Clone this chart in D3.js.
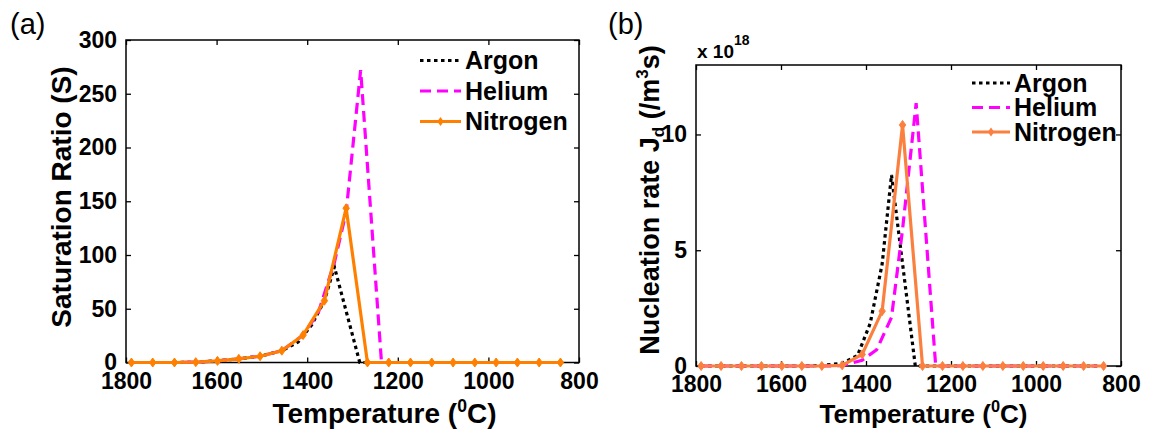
<!DOCTYPE html>
<html>
<head>
<meta charset="utf-8">
<script src="https://cdn.jsdelivr.net/npm/d3@7"></script>
<style>
  html, body { margin: 0; padding: 0; background: #fff; }
  svg { display: block; }
  text { font-family: "Liberation Sans", Arial, sans-serif; fill: #000; }
</style>
</head>
<body>
<svg id="fig" width="1149" height="435"></svg>
<script>
// Temperature grids (°C) for each carrier gas
const argonT    = [1788, 1741, 1693, 1646, 1598, 1551, 1504, 1456, 1420, 1390, 1362, 1340, 1284, 1236, 1188, 1141, 1093, 1046, 998, 951, 903, 856];
const heliumT   = [1788, 1741, 1693, 1646, 1598, 1551, 1504, 1456, 1409, 1375, 1340, 1314, 1282, 1236, 1188, 1141, 1093, 1046, 998, 951, 903, 856];
const nitrogenT = [1788, 1741, 1693, 1646, 1598, 1551, 1504, 1456, 1409, 1362, 1314, 1267, 1220, 1172, 1125, 1078, 1030, 983, 936, 888, 841];

// (a) Saturation ratio S
const argonS    = [0, 0, 0, 0.3, 1.5, 3.4, 5.8, 11, 19, 35, 57.5, 89, 0, 0, 0, 0, 0, 0, 0, 0, 0, 0];
const heliumS   = [0, 0, 0, 0.3, 1.5, 3.4, 5.8, 11, 25.5, 47, 93, 140, 272, 0, 0, 0, 0, 0, 0, 0, 0, 0];
const nitrogenS = [0, 0, 0, 0.3, 1.5, 3.4, 5.8, 11, 25.5, 57.5, 143.5, 0, 0, 0, 0, 0, 0, 0, 0, 0, 0];

// (b) Nucleation rate J_d, in units of 1e18 /m^3 s
const argonJ    = [0, 0, 0, 0, 0, 0, 0.02, 0.12, 0.45, 1.85, 4.4, 8.25, 0, 0, 0, 0, 0, 0, 0, 0, 0, 0];
const heliumJ   = [0, 0, 0, 0, 0, 0, 0, 0.02, 0.25, 0.7, 2.1, 5.9, 11.35, 0, 0, 0, 0, 0, 0, 0, 0, 0];
const nitrogenJ = [0, 0, 0, 0, 0, 0, 0, 0.03, 0.5, 2.37, 10.41, 0, 0, 0, 0, 0, 0, 0, 0, 0, 0];

const xTicks = [1800, 1600, 1400, 1200, 1000, 800];
const sTicks = [0, 50, 100, 150, 200, 250, 300];
const jTicks = [0, 5, 10];
const gasNames = ["Argon", "Helium", "Nitrogen"];

const svg = d3.select("#fig");
const fmt = d3.format("d");

function drawPanel(p) {
  const x = d3.scaleLinear().domain([1800, 800]).range([p.left, p.right]);
  const y = d3.scaleLinear().domain([0, p.yMax]).range([p.bottom, p.top]);
  const g = svg.append("g");
  const tickLen = 5;

  // inward ticks on all four sides
  const axisStyle = sel => sel.call(s => s.select(".domain").remove())
    .call(s => s.selectAll("line").attr("stroke", "#000").attr("stroke-width", 1.3));
  g.append("g").attr("transform", `translate(0,${p.bottom})`)
    .call(d3.axisBottom(x).tickValues(xTicks).tickFormat(fmt).tickSizeInner(-tickLen).tickSizeOuter(0).tickPadding(10))
    .call(axisStyle)
    .call(s => s.selectAll("text").attr("font-size", 23).attr("font-weight", "bold").attr("dy", "0.71em"));
  g.append("g").attr("transform", `translate(0,${p.top})`)
    .call(d3.axisTop(x).tickValues(xTicks).tickSizeInner(-tickLen).tickSizeOuter(0).tickFormat(""))
    .call(axisStyle);
  g.append("g").attr("transform", `translate(${p.left},0)`)
    .call(d3.axisLeft(y).tickValues(p.yTicks).tickFormat(fmt).tickSizeInner(-tickLen).tickSizeOuter(0).tickPadding(9))
    .call(axisStyle)
    .call(s => s.selectAll("text").attr("font-size", 23).attr("font-weight", "bold"));
  g.append("g").attr("transform", `translate(${p.right},0)`)
    .call(d3.axisRight(y).tickValues(p.yTicks).tickSizeInner(-tickLen).tickSizeOuter(0).tickFormat(""))
    .call(axisStyle);

  // frame
  g.append("rect")
    .attr("x", p.left).attr("y", p.top)
    .attr("width", p.right - p.left).attr("height", p.bottom - p.top)
    .attr("fill", "none").attr("stroke", "#000").attr("stroke-width", 1.5);

  const line = d3.line().x(d => x(d[0])).y(d => y(d[1]));
  const styles = [
    { color: "#000000", dash: "3.5,3.5", width: 3.2 },
    { color: "#ff00ff", dash: "11,6", width: 3.2 },
    { color: p.orange, dash: null, width: 3.2 }
  ];
  p.series.forEach((s, i) => {
    const pts = s.t.map((t, k) => [t, s.v[k]]);
    g.append("path").datum(pts)
      .attr("d", line)
      .attr("fill", "none")
      .attr("stroke", styles[i].color)
      .attr("stroke-width", styles[i].width)
      .attr("stroke-dasharray", styles[i].dash)
      .attr("stroke-linejoin", "miter");
    if (i === 2) {
      g.selectAll(null).data(pts).enter().append("path")
        .attr("d", "M0,-4.5L3.2,0L0,4.5L-3.2,0Z")
        .attr("transform", d => `translate(${x(d[0])},${y(d[1])})`)
        .attr("fill", p.orange).attr("stroke", p.orange).attr("stroke-width", 1);
    }
  });

  // legend
  gasNames.forEach((name, i) => {
    const ly = p.legY + i * p.legGap;
    g.append("line")
      .attr("x1", p.legX).attr("x2", p.legX + p.legLen)
      .attr("y1", ly).attr("y2", ly)
      .attr("stroke", styles[i].color).attr("stroke-width", styles[i].width)
      .attr("stroke-dasharray", styles[i].dash);
    if (i === 2) {
      g.append("path").attr("d", "M0,-4.5L3.2,0L0,4.5L-3.2,0Z")
        .attr("transform", `translate(${p.legX + p.legLen / 2},${ly})`)
        .attr("fill", p.orange);
    }
    g.append("text")
      .attr("x", p.legX + p.legLen + 4).attr("y", ly + 8.5)
      .attr("font-size", 25).attr("font-weight", "bold")
      .text(name);
  });

  // x-axis title
  const xt = g.append("text")
    .attr("x", (p.left + p.right) / 2 + p.xTitleShift).attr("y", 423)
    .attr("text-anchor", "middle").attr("font-size", p.titleSize).attr("font-weight", "bold");
  xt.append("tspan").text("Temperature (");
  xt.append("tspan").attr("font-size", p.titleSize * 0.63).attr("dy", -11).text("0");
  xt.append("tspan").attr("dy", 11).text("C)");

  // panel label
  g.append("text")
    .attr("x", p.tagX).attr("y", 34)
    .attr("font-family", "'Noto Sans', sans-serif")
    .attr("font-size", 29)
    .text(p.tag);
  return { g, x, y };
}

// (a) Saturation ratio
const a = drawPanel({
  left: 126, right: 579, top: 40, bottom: 362.5, yMax: 300, yTicks: sTicks,
  orange: "#ff8000", legX: 420, legLen: 41, legY: 60.5, legGap: 30.5,
  xTitleShift: 32, titleSize: 28,
  tag: "(a)", tagX: 10,
  series: [
    { t: argonT, v: argonS },
    { t: heliumT, v: heliumS },
    { t: nitrogenT, v: nitrogenS }
  ]
});
a.g.append("text")
  .attr("transform", "translate(71,197) rotate(-90)")
  .attr("text-anchor", "middle").attr("font-size", 28).attr("font-weight", "bold")
  .text("Saturation Ratio (S)");

// (b) Nucleation rate
const b = drawPanel({
  left: 696, right: 1121, top: 65, bottom: 366, yMax: 13, yTicks: jTicks,
  orange: "#fb8040", legX: 972, legLen: 38, legY: 83, legGap: 24.5,
  xTitleShift: 15, titleSize: 26,
  tag: "(b)", tagX: 608,
  series: [
    { t: argonT, v: argonJ },
    { t: heliumT, v: heliumJ },
    { t: nitrogenT, v: nitrogenJ }
  ]
});
const yl = b.g.append("text")
  .attr("transform", "translate(659,200) rotate(-90)")
  .attr("text-anchor", "middle").attr("font-size", 27).attr("font-weight", "bold");
yl.append("tspan").text("Nucleation rate J");
yl.append("tspan").attr("font-size", 17).attr("dy", 5).text("d");
yl.append("tspan").attr("dy", -5).text(" (/m");
yl.append("tspan").attr("font-size", 17).attr("dy", -11).text("3");
yl.append("tspan").attr("dy", 11).text("s)");

// exponent marker above the J axis
const ex = b.g.append("text").attr("x", 697).attr("y", 58)
  .attr("font-size", 19).attr("font-weight", "bold");
ex.append("tspan").text("x 10");
ex.append("tspan").attr("font-size", 14).attr("dy", -13).text("18");
</script>
</body>
</html>
